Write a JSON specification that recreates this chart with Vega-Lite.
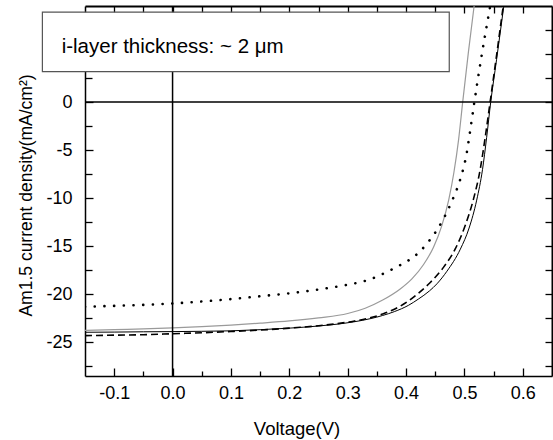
{
  "$schema": "https://vega.github.io/schema/vega-lite/v6.json",
  "width": 467,
  "height": 370,
  "autosize": {"type": "none"},
  "padding": {"left": 85, "top": 6, "right": 1, "bottom": 64},
  "background": "white",
  "config": {
    "view": {"stroke": null},
    "font": "Liberation Sans",
    "axis": {
      "grid": false,
      "domainColor": "black",
      "tickColor": "black",
      "labelColor": "black",
      "titleColor": "black",
      "labelFont": "Liberation Sans",
      "titleFont": "Liberation Sans",
      "titleFontWeight": "normal",
      "tickWidth": 1.3
    }
  },
  "datasets": {
    "curves": [
      {"s": "gray", "V": -0.15, "J": -23.75},
      {"s": "gray", "V": -0.1, "J": -23.68},
      {"s": "gray", "V": -0.05, "J": -23.6},
      {"s": "gray", "V": 0, "J": -23.5},
      {"s": "gray", "V": 0.05, "J": -23.37},
      {"s": "gray", "V": 0.1, "J": -23.2},
      {"s": "gray", "V": 0.15, "J": -23.0},
      {"s": "gray", "V": 0.2, "J": -22.77},
      {"s": "gray", "V": 0.25, "J": -22.45},
      {"s": "gray", "V": 0.3, "J": -22.0},
      {"s": "gray", "V": 0.33, "J": -21.45},
      {"s": "gray", "V": 0.36, "J": -20.6},
      {"s": "gray", "V": 0.39, "J": -19.45},
      {"s": "gray", "V": 0.41, "J": -18.4},
      {"s": "gray", "V": 0.43, "J": -16.9},
      {"s": "gray", "V": 0.447, "J": -15.1},
      {"s": "gray", "V": 0.461, "J": -12.9},
      {"s": "gray", "V": 0.473, "J": -10.2},
      {"s": "gray", "V": 0.482, "J": -7.3},
      {"s": "gray", "V": 0.49, "J": -3.9},
      {"s": "gray", "V": 0.497, "J": 0},
      {"s": "gray", "V": 0.507, "J": 5.3},
      {"s": "gray", "V": 0.517, "J": 10.2},
      {"s": "gray", "V": 0.525, "J": 14},

      {"s": "dot", "V": -0.15, "J": -21.3},
      {"s": "dot", "V": -0.1, "J": -21.2},
      {"s": "dot", "V": -0.05, "J": -21.1},
      {"s": "dot", "V": 0, "J": -20.95},
      {"s": "dot", "V": 0.05, "J": -20.75},
      {"s": "dot", "V": 0.1, "J": -20.5},
      {"s": "dot", "V": 0.15, "J": -20.2},
      {"s": "dot", "V": 0.2, "J": -19.9},
      {"s": "dot", "V": 0.25, "J": -19.5},
      {"s": "dot", "V": 0.3, "J": -19.0},
      {"s": "dot", "V": 0.33, "J": -18.6},
      {"s": "dot", "V": 0.356, "J": -18.0},
      {"s": "dot", "V": 0.373, "J": -17.5},
      {"s": "dot", "V": 0.389, "J": -17.0},
      {"s": "dot", "V": 0.406, "J": -16.4},
      {"s": "dot", "V": 0.421, "J": -15.7},
      {"s": "dot", "V": 0.436, "J": -14.7},
      {"s": "dot", "V": 0.454, "J": -13.2},
      {"s": "dot", "V": 0.467, "J": -11.8},
      {"s": "dot", "V": 0.48, "J": -10.1},
      {"s": "dot", "V": 0.493, "J": -8.0},
      {"s": "dot", "V": 0.503, "J": -5.6},
      {"s": "dot", "V": 0.511, "J": -2.5},
      {"s": "dot", "V": 0.517, "J": 0},
      {"s": "dot", "V": 0.528, "J": 4.3},
      {"s": "dot", "V": 0.543, "J": 9.6},
      {"s": "dot", "V": 0.551, "J": 12.3},

      {"s": "dash", "V": -0.15, "J": -24.3},
      {"s": "dash", "V": -0.1, "J": -24.25},
      {"s": "dash", "V": -0.05, "J": -24.2},
      {"s": "dash", "V": 0, "J": -24.1},
      {"s": "dash", "V": 0.05, "J": -24.0},
      {"s": "dash", "V": 0.1, "J": -23.87},
      {"s": "dash", "V": 0.15, "J": -23.72},
      {"s": "dash", "V": 0.2, "J": -23.52},
      {"s": "dash", "V": 0.25, "J": -23.27},
      {"s": "dash", "V": 0.28, "J": -23.07},
      {"s": "dash", "V": 0.31, "J": -22.8},
      {"s": "dash", "V": 0.34, "J": -22.42},
      {"s": "dash", "V": 0.36, "J": -22.05},
      {"s": "dash", "V": 0.38, "J": -21.55},
      {"s": "dash", "V": 0.404, "J": -20.7},
      {"s": "dash", "V": 0.42, "J": -19.95},
      {"s": "dash", "V": 0.441, "J": -18.8},
      {"s": "dash", "V": 0.464, "J": -17.2},
      {"s": "dash", "V": 0.484, "J": -15.3},
      {"s": "dash", "V": 0.501, "J": -12.9},
      {"s": "dash", "V": 0.515, "J": -10.2},
      {"s": "dash", "V": 0.527, "J": -7.0},
      {"s": "dash", "V": 0.535, "J": -3.9},
      {"s": "dash", "V": 0.544, "J": 0},
      {"s": "dash", "V": 0.554, "J": 4.4},
      {"s": "dash", "V": 0.566, "J": 9.8},
      {"s": "dash", "V": 0.572, "J": 12.5},

      {"s": "solid", "V": -0.15, "J": -23.95},
      {"s": "solid", "V": -0.1, "J": -23.93},
      {"s": "solid", "V": -0.05, "J": -23.9},
      {"s": "solid", "V": 0, "J": -23.88},
      {"s": "solid", "V": 0.05, "J": -23.85},
      {"s": "solid", "V": 0.1, "J": -23.8},
      {"s": "solid", "V": 0.15, "J": -23.68},
      {"s": "solid", "V": 0.2, "J": -23.52},
      {"s": "solid", "V": 0.25, "J": -23.3},
      {"s": "solid", "V": 0.28, "J": -23.12},
      {"s": "solid", "V": 0.31, "J": -22.87},
      {"s": "solid", "V": 0.34, "J": -22.52},
      {"s": "solid", "V": 0.36, "J": -22.2},
      {"s": "solid", "V": 0.38, "J": -21.8},
      {"s": "solid", "V": 0.404, "J": -21.15},
      {"s": "solid", "V": 0.421, "J": -20.5},
      {"s": "solid", "V": 0.44, "J": -19.65},
      {"s": "solid", "V": 0.453, "J": -18.9},
      {"s": "solid", "V": 0.47, "J": -17.6},
      {"s": "solid", "V": 0.493, "J": -15.3},
      {"s": "solid", "V": 0.508, "J": -13.1},
      {"s": "solid", "V": 0.521, "J": -10.2},
      {"s": "solid", "V": 0.531, "J": -7.0},
      {"s": "solid", "V": 0.538, "J": -3.7},
      {"s": "solid", "V": 0.545, "J": 0},
      {"s": "solid", "V": 0.555, "J": 4.4},
      {"s": "solid", "V": 0.567, "J": 9.8},
      {"s": "solid", "V": 0.573, "J": 12.5}
    ]
  },
  "data": {"name": "curves"},
  "layer": [
    {
      "transform": [{"filter": "datum.s == 'gray'"}],
      "mark": {"type": "line", "color": "#9a9a9a", "strokeWidth": 1.2, "interpolate": "monotone", "clip": true},
      "encoding": {
        "x": {
          "field": "V", "type": "quantitative",
          "scale": {"domain": [-0.15, 0.65], "nice": false, "zero": false},
          "axis": {
            "orient": "bottom",
            "values": [-0.1, 0, 0.1, 0.2, 0.3, 0.4, 0.5, 0.6],
            "labelExpr": "datum.value == 0 ? '0.0' : '' + datum.value",
            "tickSize": -8,
            "labelPadding": 30,
            "labelBaseline": "alphabetic",
            "labelFontSize": 18,
            "labelAngle": 0,
            "labelFlush": false,
            "labelOverlap": false,
            "domainWidth": 1.5,
            "title": "Voltage(V)",
            "titleFontSize": 18.5,
            "titleX": 211.5,
            "titleY": 58,
            "titleBaseline": "alphabetic"
          }
        },
        "y": {
          "field": "J", "type": "quantitative",
          "scale": {"domain": [-28.5, 10], "nice": false, "zero": false},
          "axis": {
            "orient": "left",
            "values": [-25, -20, -15, -10, -5, 0],
            "labelExpr": "'' + datum.value",
            "tickSize": -8,
            "labelPadding": 21,
            "labelFontSize": 18,
            "labelBaseline": "middle",
            "labelFlush": false,
            "labelOverlap": false,
            "domainWidth": 1.5,
            "title": "Am1.5 current density(mA/cm²)",
            "titleFontSize": 17.5,
            "titleAngle": 270,
            "titleX": -54,
            "titleY": 189,
            "titleBaseline": "alphabetic"
          }
        }
      }
    },
    {
      "transform": [{"filter": "datum.s == 'dash'"}],
      "mark": {"type": "line", "color": "black", "strokeWidth": 1.6, "strokeDash": [7, 4], "interpolate": "monotone", "clip": true},
      "encoding": {
        "x": {
          "field": "V", "type": "quantitative",
          "scale": {"domain": [-0.15, 0.65], "nice": false, "zero": false},
          "axis": {
            "orient": "bottom",
            "values": [-0.05, 0.05, 0.15, 0.25, 0.35, 0.45, 0.55],
            "tickSize": -5,
            "labels": false,
            "domain": false,
            "title": null
          }
        },
        "y": {
          "field": "J", "type": "quantitative",
          "scale": {"domain": [-28.5, 10], "nice": false, "zero": false},
          "axis": {
            "orient": "left",
            "values": [-27.5, -22.5, -17.5, -12.5, -7.5, -2.5, 2.5, 7.5],
            "tickSize": -7,
            "labels": false,
            "domain": false,
            "title": null
          }
        }
      }
    },
    {
      "transform": [{"filter": "datum.s == 'solid'"}],
      "mark": {"type": "line", "color": "black", "strokeWidth": 1, "interpolate": "monotone", "clip": true},
      "encoding": {
        "x": {
          "field": "V", "type": "quantitative",
          "scale": {"domain": [-0.15, 0.65], "nice": false, "zero": false},
          "axis": {
            "orient": "top",
            "values": [-0.1, -0.05, 0, 0.05, 0.1, 0.15, 0.2, 0.25, 0.3, 0.35, 0.4, 0.45, 0.5, 0.55, 0.6],
            "tickSize": -7,
            "labels": false,
            "domainWidth": 2,
            "title": null
          }
        },
        "y": {
          "field": "J", "type": "quantitative",
          "scale": {"domain": [-28.5, 10], "nice": false, "zero": false},
          "axis": {
            "orient": "right",
            "values": [-27.5, -25, -22.5, -20, -17.5, -15, -12.5, -10, -7.5, -5, -2.5, 0, 2.5, 5, 7.5],
            "tickSize": -7,
            "labels": false,
            "domainWidth": 2,
            "title": null
          }
        }
      }
    },
    {
      "transform": [{"filter": "datum.s == 'dot'"}],
      "mark": {"type": "line", "color": "black", "strokeWidth": 2.6, "strokeDash": [0.1, 9.6], "strokeCap": "round", "interpolate": "monotone", "clip": true},
      "encoding": {
        "x": {"field": "V", "type": "quantitative", "scale": {"domain": [-0.15, 0.65], "nice": false, "zero": false}, "axis": null},
        "y": {"field": "J", "type": "quantitative", "scale": {"domain": [-28.5, 10], "nice": false, "zero": false}, "axis": null}
      }
    },
    {
      "data": {"values": [{}]},
      "mark": {"type": "rule", "color": "black", "strokeWidth": 1.5},
      "encoding": {
        "x": {"datum": 0, "type": "quantitative", "scale": {"domain": [-0.15, 0.65], "nice": false, "zero": false}, "axis": null}
      }
    },
    {
      "data": {"values": [{}]},
      "mark": {"type": "rule", "color": "black", "strokeWidth": 1.5},
      "encoding": {
        "y": {"datum": 0, "type": "quantitative", "scale": {"domain": [-28.5, 10], "nice": false, "zero": false}, "axis": null}
      }
    },
    {
      "data": {"values": [{}]},
      "mark": {"type": "rect", "fill": "white", "stroke": "#555555", "strokeWidth": 1.2, "clip": false},
      "encoding": {
        "x": {"datum": -0.223, "type": "quantitative", "scale": {"domain": [-0.15, 0.65], "nice": false, "zero": false}, "axis": null},
        "x2": {"datum": 0.474},
        "y": {"datum": 9.36, "type": "quantitative", "scale": {"domain": [-28.5, 10], "nice": false, "zero": false}, "axis": null},
        "y2": {"datum": 3.18}
      }
    },
    {
      "data": {"values": [{}]},
      "mark": {"type": "text", "text": "i-layer thickness: ~ 2 μm", "align": "left", "baseline": "alphabetic", "fontSize": 20.5, "font": "Liberation Sans", "color": "black", "clip": false},
      "encoding": {
        "x": {"datum": -0.19, "type": "quantitative", "scale": {"domain": [-0.15, 0.65], "nice": false, "zero": false}, "axis": null},
        "y": {"datum": 5.1, "type": "quantitative", "scale": {"domain": [-28.5, 10], "nice": false, "zero": false}, "axis": null}
      }
    }
  ],
  "resolve": {"axis": {"x": "independent", "y": "independent"}}
}
